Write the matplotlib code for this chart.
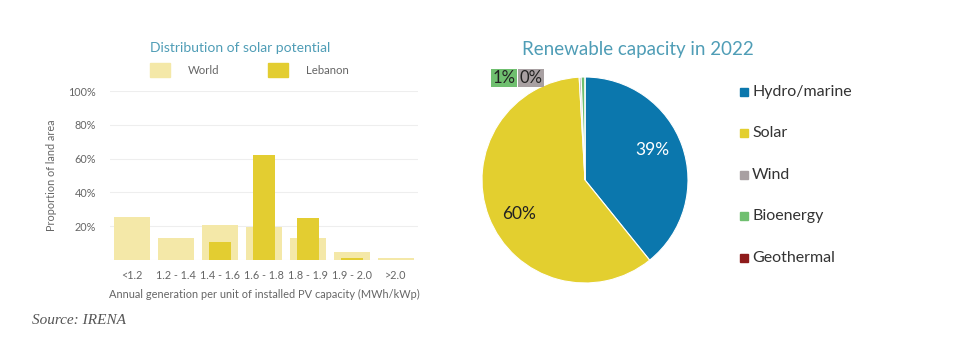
import matplotlib
matplotlib.use("Agg")
import matplotlib.pyplot as plt
from matplotlib.patches import Rectangle

plt.rcParams["font.family"] = ["Lato", "DejaVu Sans"]

# Distribution of solar potential (share of land area, %)
categories = ["<1.2", "1.2 - 1.4", "1.4 - 1.6", "1.6 - 1.8", "1.8 - 1.9", "1.9 - 2.0", ">2.0"]
world = [25.5, 13.2, 20.8, 19.6, 13.2, 4.9, 1.2]
lebanon = [0.0, 0.0, 10.5, 62.3, 25.1, 1.4, 0.0]
y_ticks = [20, 40, 60, 80, 100]

# Renewable capacity in 2022 (share, %)
sources = ["Hydro/marine", "Solar", "Wind", "Bioenergy", "Geothermal"]
shares = [39.2, 59.9, 0.3, 0.6, 0.0]
share_labels = ["39%", "60%", "0%", "1%", "0%"]

W, H = 959, 346
fig = plt.figure(figsize=(W / 100, H / 100), dpi=100)
fig.patch.set_facecolor("white")

def px(x0, y0, x1, y1):
    return [x0 / W, 1 - y1 / H, (x1 - x0) / W, (y1 - y0) / H]

world_c = "#f4e8a8"
leb_c = "#e3cd31"
title_c = "#4f9db6"
txt_c = "#666666"

# ---- bar chart ----
ax = fig.add_axes(px(110, 91, 418, 260))
x = list(range(len(categories)))
ax.bar(x, world, width=0.8, color=world_c, zorder=2)
ax.bar(x, lebanon, width=0.5, color=leb_c, zorder=3)
ax.set_xlim(-0.5, len(categories) - 0.5)
ax.set_ylim(0, 100)
ax.set_yticks(y_ticks)
ax.set_yticklabels([f"{v}%" for v in y_ticks])
ax.set_xticks(x)
ax.set_xticklabels(categories)
ax.tick_params(length=0, labelsize=7.8, colors=txt_c, pad=7)
ax.tick_params(axis="y", pad=10)
for s in ax.spines.values():
    s.set_visible(False)
ax.grid(axis="y", color="#eeeeee", linewidth=0.8, zorder=0)
ax.axhline(0, color="#eeeeee", linewidth=0.8, zorder=1)
ax.set_xlabel("Annual generation per unit of installed PV capacity (MWh/kWp)",
              fontsize=7.9, color=txt_c, labelpad=6)
ax.set_ylabel("Proportion of land area", fontsize=7.8, color=txt_c, labelpad=8)

fig.text(240 / W, 1 - 48 / H, "Distribution of solar potential", ha="center", va="center",
         fontsize=10, color=title_c)
fig.patches.append(Rectangle((150 / W, 1 - 77 / H), 20 / W, 14 / H, transform=fig.transFigure,
                             color=world_c))
fig.text(188 / W, 1 - 70 / H, "World", ha="left", va="center", fontsize=8.2, color=txt_c)
fig.patches.append(Rectangle((268 / W, 1 - 77 / H), 20 / W, 14 / H, transform=fig.transFigure,
                             color=leb_c))
fig.text(306 / W, 1 - 70 / H, "Lebanon", ha="left", va="center", fontsize=8.2, color=txt_c)

# ---- pie chart ----
pie_colors = ["#0b77ad", "#e3cf2f", "#a8a0a2", "#6fbf6f", "#8e1b1b"]
pax = fig.add_axes(px(482, 77, 688, 283))
pax.pie(shares, colors=pie_colors, startangle=90, counterclock=False,
        wedgeprops=dict(edgecolor="white", linewidth=0.8))
pax.set_xlim(-1, 1)
pax.set_ylim(-1, 1)
pax.set_aspect("equal")
pax.axis("off")

fig.text(652 / W, 1 - 150 / H, share_labels[0], ha="center", va="center", fontsize=12.5,
         color="white")
fig.text(519 / W, 1 - 214 / H, share_labels[1], ha="center", va="center", fontsize=12.5,
         color="#222222")
fig.text(504 / W, 1 - 78 / H, share_labels[3], ha="center", va="center", fontsize=12,
         color="#222222",
         bbox=dict(boxstyle="square,pad=0.08", facecolor=pie_colors[3], edgecolor="none"))
fig.text(531 / W, 1 - 78 / H, share_labels[2], ha="center", va="center", fontsize=12,
         color="#222222",
         bbox=dict(boxstyle="square,pad=0.08", facecolor=pie_colors[2], edgecolor="none"))

fig.text(638 / W, 1 - 50 / H, "Renewable capacity in 2022", ha="center", va="center",
         fontsize=13.5, color=title_c)

rows_y = [92, 133, 175, 216, 258]
for name, col, yy in zip(sources, pie_colors, rows_y):
    fig.patches.append(Rectangle((740 / W, 1 - (yy + 4) / H), 8 / W, 8 / H,
                                 transform=fig.transFigure, color=col))
    fig.text(752 / W, 1 - yy / H, name, ha="left", va="center", fontsize=11.5, color="#333333")

fig.text(32 / W, 1 - 320 / H, "Source: IRENA", ha="left", va="center", fontsize=11,
         family="Liberation Serif", style="italic", color="#555555")

fig.savefig("out.png", dpi=100, facecolor="white")
